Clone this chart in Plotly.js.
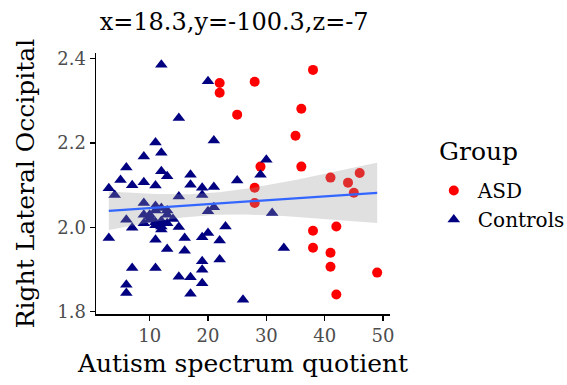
<!DOCTYPE html>
<html>
<head>
<meta charset="utf-8">
<script src="https://cdn.plot.ly/plotly-3.0.1.min.js"></script>
<style>html,body{margin:0;padding:0;background:#fff;}#chart{width:567px;height:385px;}</style>
</head>
<body>
<div id="chart"></div>
<script>
// ---- data ----
const asdX = [22, 22, 25, 28, 38, 36, 35, 29, 36, 41, 44, 45, 46, 28, 28, 38, 42, 38, 41, 41, 49, 42];
const asdY = [2.342, 2.319, 2.267, 2.345, 2.373, 2.281, 2.217, 2.144, 2.144, 2.118, 2.106, 2.082, 2.129, 2.094, 2.058, 1.992, 2.002, 1.952, 1.940, 1.907, 1.893, 1.841];

const ctlX = [12, 20, 15, 11, 21, 12, 9, 6, 12, 5, 9, 3, 7, 11, 13, 17, 17, 19, 21, 25,
              15, 19, 9, 11, 12, 21, 20, 6, 10, 9, 7, 11, 12, 13, 15, 3, 11, 16, 19, 20,
              22, 23, 13, 16, 7, 11, 19, 22, 19, 15, 17, 19, 6, 6, 17, 26, 30, 29, 31, 33,
              4, 10, 13, 10, 11, 12, 13, 9, 11, 12, 14];
const ctlY = [2.385, 2.346, 2.259, 2.201, 2.206, 2.177, 2.168, 2.142, 2.133, 2.112, 2.107, 2.093, 2.100, 2.099, 2.121, 2.125, 2.101, 2.094, 2.096, 2.111,
              2.073, 2.077, 2.058, 2.051, 2.046, 2.048, 2.038, 2.018, 2.018, 2.010, 1.999, 2.012, 2.002, 2.010, 2.001, 1.975, 1.971, 1.975, 1.977, 1.987,
              1.969, 2.002, 1.949, 1.945, 1.904, 1.904, 1.920, 1.924, 1.900, 1.883, 1.882, 1.868, 1.864, 1.845, 1.843, 1.829, 2.160, 2.125, 2.034, 1.951,
              2.077, 2.030, 2.040, 2.025, 2.005, 2.015, 2.030, 2.030, 2.040, 1.995, 2.020];

const groupNames = ['ASD', 'Controls'];
const legendTitle = 'Group';
const titleText = 'x=18.3,y=-100.3,z=-7';
const xTitle = 'Autism spectrum quotient';
const yTitle = 'Right Lateral Occipital';
const xTicks = [10, 20, 30, 40, 50];
const yTicks = [1.8, 2.0, 2.2, 2.4];

// ---- linear fit (lm) with 95% confidence band over all points ----
const allX = ctlX.concat(asdX), allY = ctlY.concat(asdY);
const n = allX.length;
const mx = allX.reduce((a, b) => a + b, 0) / n;
const my = allY.reduce((a, b) => a + b, 0) / n;
let sxx = 0, sxy = 0;
for (let i = 0; i < n; i++) { sxx += (allX[i] - mx) ** 2; sxy += (allX[i] - mx) * (allY[i] - my); }
const b1 = sxy / sxx, b0 = my - b1 * mx;
let sse = 0;
for (let i = 0; i < n; i++) { sse += (allY[i] - b0 - b1 * allX[i]) ** 2; }
const s = Math.sqrt(sse / (n - 2));
const tq = 1.99;
const xmin = Math.min(...allX), xmax = Math.max(...allX);
const gx = [], fit = [], lo = [], hi = [];
for (let k = 0; k <= 80; k++) {
  const x = xmin + (xmax - xmin) * k / 80;
  const f = b0 + b1 * x;
  const se = s * Math.sqrt(1 / n + (x - mx) ** 2 / sxx);
  gx.push(x); fit.push(f); lo.push(f - tq * se); hi.push(f + tq * se);
}

const font = 'DejaVu Serif';
const traces = [
  {x: asdX, y: asdY, type: 'scatter', mode: 'markers', name: groupNames[0],
   marker: {symbol: 'circle', color: '#FF0000', size: 10}},
  {x: ctlX, y: ctlY, type: 'scatter', mode: 'markers', name: groupNames[1],
   marker: {symbol: 'triangle-up', color: '#000080', size: 11}},
  {x: gx.concat(gx.slice().reverse()), y: hi.concat(lo.slice().reverse()), type: 'scatter', mode: 'lines',
   fill: 'toself', fillcolor: 'rgba(153,153,153,0.3)', line: {width: 0}, showlegend: false, hoverinfo: 'skip'},
  {x: gx, y: fit, type: 'scatter', mode: 'lines', line: {color: '#3366FF', width: 2.2}, showlegend: false}
];

const layout = {
  width: 567, height: 385,
  margin: {l: 96, r: 177, t: 53, b: 71},
  paper_bgcolor: '#fff', plot_bgcolor: '#fff',
  font: {family: font, color: '#000'},
  title: {text: titleText, font: {family: font, size: 24, color: '#000'},
          x: 0.413, xref: 'container', xanchor: 'center', y: 0.943, yref: 'container', yanchor: 'middle'},
  xaxis: {range: [0.8, 51.2], tickvals: xTicks, ticktext: xTicks.map(String), automargin: false,
          showgrid: false, zeroline: false, showline: true, linecolor: '#000', linewidth: 1.5,
          ticks: 'outside', ticklen: 5, tickcolor: '#000', tickwidth: 1.2,
          tickfont: {family: font, size: 18, color: '#4D4D4D'},
          title: {text: xTitle, font: {family: font, size: 25, color: '#000'}, standoff: 9}},
  yaxis: {range: [1.795, 2.413], tickvals: yTicks, ticktext: yTicks.map(v => v.toFixed(1)), automargin: false,
          showgrid: false, zeroline: false, showline: true, linecolor: '#000', linewidth: 1.5,
          ticks: 'outside', ticklen: 5, tickcolor: '#000', tickwidth: 1.2,
          tickfont: {family: font, size: 18, color: '#4D4D4D'},
          title: {text: yTitle, font: {family: font, size: 25, color: '#000'}, standoff: 15}},
  legend: {x: 0.758, y: 0.556, xref: 'container', yref: 'container', xanchor: 'left', yanchor: 'top', itemwidth: 38,
           font: {family: font, size: 20, color: '#000'}, bgcolor: 'rgba(0,0,0,0)'},
  annotations: [{text: legendTitle, xref: 'paper', yref: 'paper', x: 1.16, y: 0.621,
                 xanchor: 'left', yanchor: 'middle', showarrow: false,
                 font: {family: font, size: 25, color: '#000'}}],
  showlegend: true
};

Plotly.newPlot('chart', traces, layout, {displayModeBar: false, staticPlot: true});
</script>
</body>
</html>
